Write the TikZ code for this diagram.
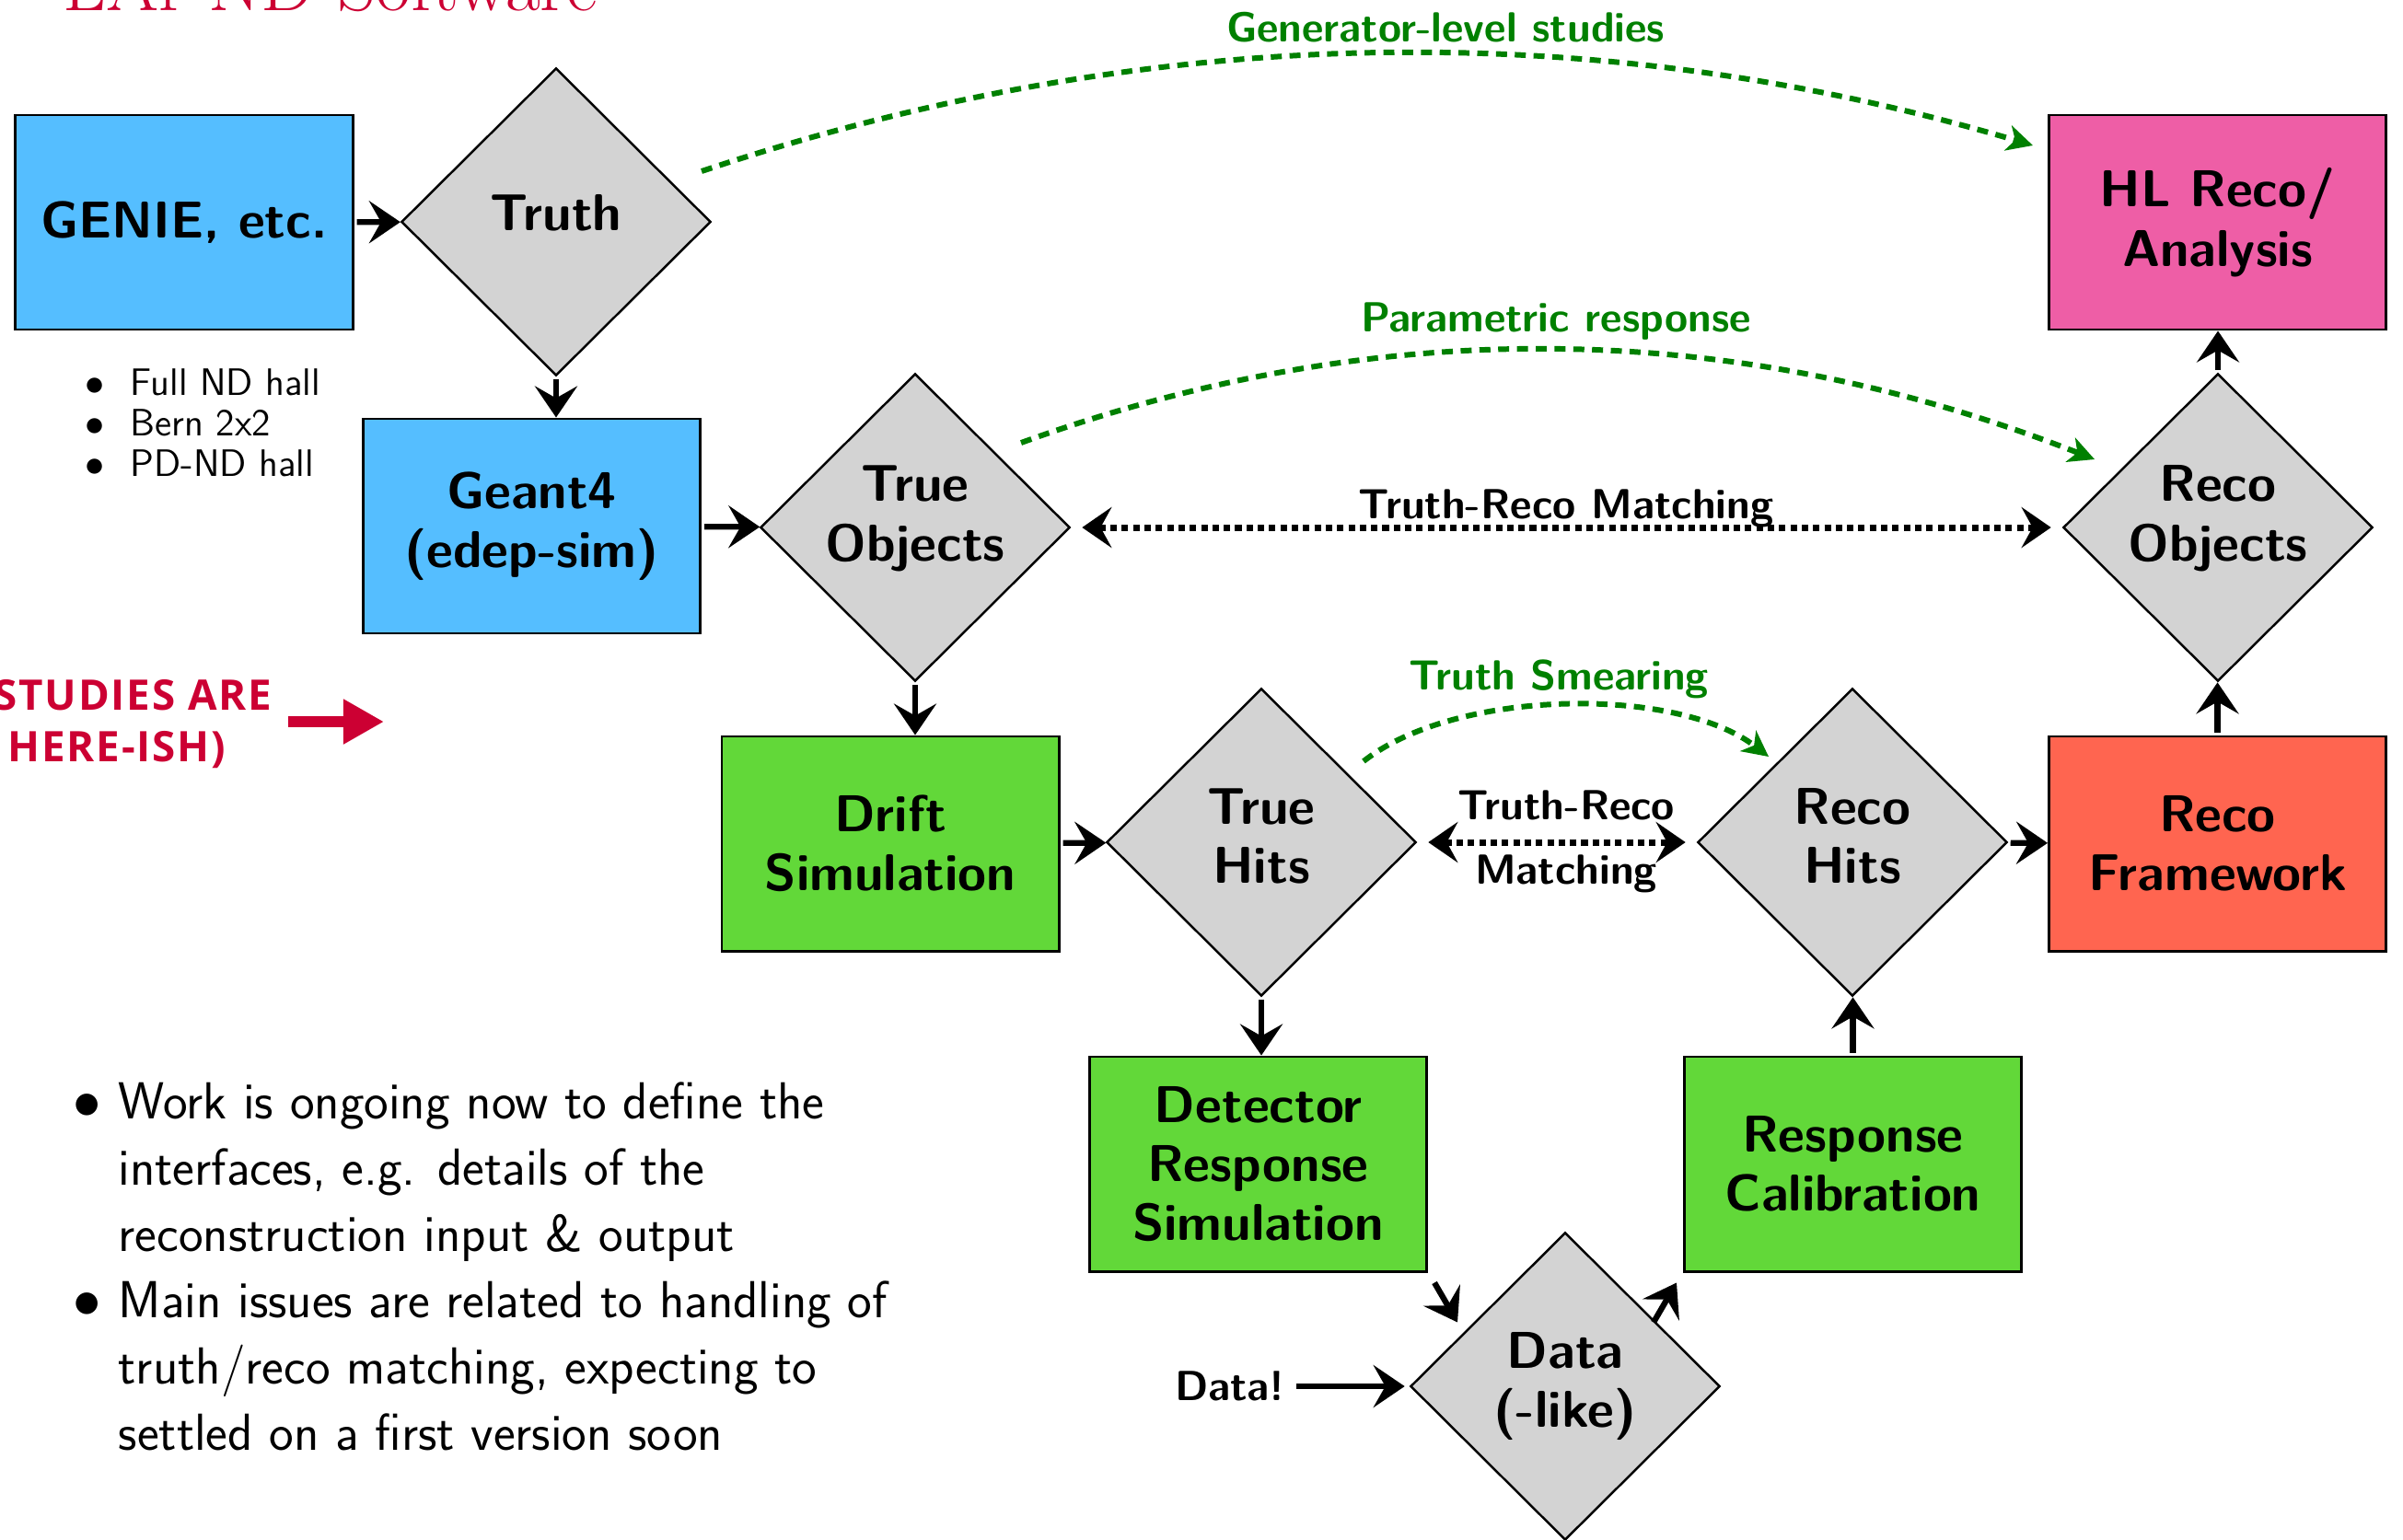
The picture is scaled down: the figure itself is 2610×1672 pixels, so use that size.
\documentclass[tikz,border=0pt]{standalone}
\usepackage{fontspec}
\newfontfamily\redfont{Open Sans}[LetterSpace=4]
\usetikzlibrary{shapes.geometric,arrows.meta,calc}
\definecolor{cblue}{RGB}{85,190,255}
\definecolor{cgreen}{RGB}{98,216,57}
\definecolor{cred}{RGB}{255,101,80}
\definecolor{cpink}{RGB}{238,94,166}
\definecolor{cgray}{RGB}{211,211,211}
\definecolor{dgreen}{RGB}{0,128,0}
\definecolor{titlered}{RGB}{204,0,51}
\newcommand\myW{\sffamily\bfseries\fontsize{16}{18.3}\selectfont}
\newcommand\myL{\sffamily\bfseries\fontsize{13}{16}\selectfont}
\begin{document}
\begin{tikzpicture}[x=0.01cm,y=-0.01cm,
  box/.style={draw=black,line width=0.8pt,minimum width=3.66cm,minimum height=2.33cm,inner sep=0pt,align=center,font=\myW},
  dia/.style={diamond,draw=black,line width=0.7pt,fill=cgray,minimum width=3.36cm,minimum height=3.34cm,inner sep=0pt,align=center,font=\myW},
  arr/.style={-{Stealth[length=3.4mm,width=4.6mm,inset=1.3mm]},line width=1.8pt},
  darr/.style={{Stealth[length=3.2mm,width=4.4mm,inset=1.2mm]}-{Stealth[length=3.2mm,width=4.4mm,inset=1.2mm]},line width=2pt,dash pattern=on 2pt off 1.5pt,shorten <=0.12cm,shorten >=0.12cm},
  garr/.style={-{Stealth[length=2.8mm,width=2.8mm,inset=0.8mm]},line width=1.7pt,draw=dgreen,dash pattern=on 3.4pt off 2.4pt},
  glabel/.style={font=\myL,text=dgreen,anchor=base},
  blabel/.style={font=\myL,anchor=base},
  bigtext/.style={font=\sffamily\fontsize{16.1}{20}\selectfont},
  smalltext/.style={font=\sffamily\fontsize{11.8}{14}\selectfont}
]
\useasboundingbox (0,0) rectangle (2610,1672);

% title (cut off at top)
\node[anchor=base east,text=titlered,font=\fontsize{23.4}{28}\selectfont,inner sep=0pt] (title) at (650,11) {LAr ND Software};

% nodes
\node[box,fill=cblue] (genie) at (200,241.5) {GENIE, etc.};
\node[dia,text depth=0.2cm] (truth) at (604,241) {Truth};
\node[box,fill=cblue] (geant) at (577.5,571.5) {Geant4\\(edep-sim)};
\node[dia,text depth=0.31cm] (trueobj) at (994,573) {True\\Objects};
\node[box,fill=cgreen] (drift) at (967,916.5) {Drift\\Simulation};
\node[dia,text depth=0.14cm] (truehits) at (1370,915) {True\\Hits};
\node[box,fill=cgreen] (det) at (1366.5,1264.5) {Detector\\Response\\Simulation};
\node[dia] (data) at (1700,1506) {Data\\(-like)};
\node[box,fill=cgreen] (resp) at (2012.5,1264.5) {Response\\Calibration};
\node[dia,text depth=0.14cm] (recohits) at (2012,915) {Reco\\Hits};
\node[box,fill=cred] (recofw) at (2408.5,916.5) {Reco\\Framework};
\node[dia,text depth=0.31cm] (recoobj) at (2409,573) {Reco\\Objects};
\node[box,fill=cpink] (hl) at (2408.5,241.5) {HL Reco/\\Analysis};

% main arrows
\draw[arr,shorten <=0.03cm] (genie) -- (truth);
\draw[arr,shorten <=0.03cm] (truth.south) -- (truth.south |- geant.north);
\draw[arr,shorten <=0.03cm] (geant) -- (trueobj);
\draw[arr,shorten <=0.03cm] (trueobj.south) -- (trueobj.south |- drift.north);
\draw[arr,shorten <=0.03cm] (drift) -- (truehits);
\draw[arr,shorten <=0.03cm] (truehits.south) -- (truehits.south |- det.north);
\draw[arr] ($(det.south east)+(7,11)$) -- ($(det.south east)+(32,54)$);
\draw[arr] ($(resp.south west)+(-32,54)$) -- ($(resp.south west)+(-7,11)$);
\draw[arr,shorten <=0.03cm] (resp.north) -- (resp.north |- recohits.south);
\draw[arr,shorten <=0.03cm] (recohits) -- (recofw);
\draw[arr,shorten <=0.03cm] (recofw.north) -- (recofw.north |- recoobj.south);
\draw[arr,shorten <=0.03cm] (recoobj.north) -- (recoobj.north |- hl.south);

% Data! input
\node[font=\myL,anchor=east] (datalbl) at (1408,1506) {Data!};
\draw[arr,shorten >=0.05cm] (datalbl.east) -- (data.west);

% truth-reco matching
\draw[darr] (trueobj.east) -- (recoobj.west);
\node[blabel] (trm) at (1701,563) {Truth-Reco Matching};
\draw[darr] (truehits.east) -- (recohits.west);
\node[blabel] (trm2) at (1701,890) {Truth-Reco};
\node[blabel] (trm3) at (1701,960) {Matching};

% green curves
\coordinate (g0) at ($(truth.center)+(158,-55)$);
\coordinate (g1) at ($(hl.west)+(-16,-83.5)$);
\draw[garr] (g0) .. controls (1244,25) and (1727,15) .. (g1);
\node[glabel] (lgen) at (1570,45) {Generator-level studies};

\coordinate (p0) at ($(trueobj.center)+(115,-92)$);
\coordinate (p1) at ($(recoobj.center)+(-134,-74)$);
\draw[garr] (p0) .. controls (1498,340) and (1886,346) .. (p1);
\node[glabel] (lpar) at (1690,360) {Parametric response};

\coordinate (s0) at ($(truehits.center)+(111,-88)$);
\coordinate (s1) at ($(recohits.center)+(-91,-93)$);
\draw[garr] (s0) .. controls (1581,748) and (1821,745) .. (s1);
\node[glabel] (lsm) at (1693,749) {Truth Smearing};

% small list
\foreach \yy/\tt [count=\i] in {429/Full ND hall,473/Bern 2x2,517/PD-ND hall}{
  \node[smalltext,anchor=base] (sb\i) at (103,\yy) {$\bullet$};
  \node[smalltext,anchor=base west,inner sep=0pt] (st\i) at (141,\yy) {\tt};
}

% red note
\node[anchor=base east,text=titlered,font=\redfont\bfseries\fontsize{13}{15}\selectfont,inner sep=0pt] (r1) at (296,771) {STUDIES ARE};
\node[anchor=base east,text=titlered,font=\redfont\bfseries\fontsize{13}{15}\selectfont,inner sep=0pt] (r2) at (246,827) {HERE-ISH)};
\coordinate (ra) at (313,784);
\coordinate (rb) at (417,784);
\draw[titlered,line width=3.2pt,-{Triangle[length=4.4mm,width=4.6mm]}] (ra) -- (rb);

% bottom bullets
\node[bigtext,anchor=base] (bb1) at (95,1215) {$\bullet$};
\node[bigtext,anchor=base] (bb2) at (95,1431) {$\bullet$};
\node[bigtext,anchor=base west,inner sep=0pt] (bl1) at (128,1215) {Work is ongoing now to define the};
\node[bigtext,anchor=base west,inner sep=0pt] (bl2) at (128,1287) {interfaces, e.g. details of the};
\node[bigtext,anchor=base west,inner sep=0pt] (bl3) at (128,1359) {reconstruction input \& output};
\node[bigtext,anchor=base west,inner sep=0pt] (bl4) at (128,1431) {Main issues are related to handling of};
\node[bigtext,anchor=base west,inner sep=0pt] (bl5) at (128,1503) {truth/reco matching, expecting to};
\node[bigtext,anchor=base west,inner sep=0pt] (bl6) at (128,1575) {settled on a first version soon};
\end{tikzpicture}
\end{document}
